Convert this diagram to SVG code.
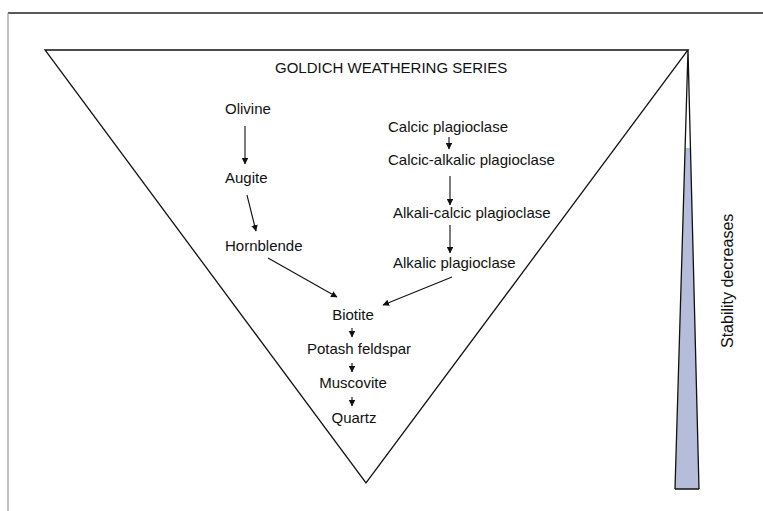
<svg xmlns="http://www.w3.org/2000/svg" width="763" height="511" viewBox="0 0 763 511">
<style>
text{font-family:"Liberation Sans",Arial,sans-serif;font-size:15px;fill:#111}
.edge{stroke:#111;stroke-width:1.1;fill:none}
</style>
<defs>
<marker id="ah" markerUnits="userSpaceOnUse" markerWidth="7" markerHeight="7" refX="6" refY="3.25" orient="auto">
<path d="M0,0 L6.5,3.25 L0,6.5 z" fill="#111"/>
</marker>
</defs>
<rect width="763" height="511" fill="#fff"/>
<g id="frame">
<line x1="8" y1="13" x2="763" y2="13" stroke="#222" stroke-width="1.3"/>
<line x1="8" y1="13" x2="8" y2="511" stroke="#999" stroke-width="1.2"/>
</g>
<g id="triangle">
<polygon points="45,50 688,50 366,483" fill="none" stroke="#111" stroke-width="1.3"/>
<text x="275" y="73">GOLDICH WEATHERING SERIES</text>
</g>
<g id="wedge">
<polygon points="685.1,148 690.5,148 699,489 675,489" fill="#b6bddb"/>
<polyline points="675,489 688,50 699,489" fill="none" stroke="#111" stroke-width="1.3"/>
<line x1="675" y1="489" x2="699" y2="489" stroke="#111" stroke-width="1.5"/>
<text transform="translate(733,348) rotate(-90)" style="font-size:16px">Stability decreases</text>
</g>
<g id="olivine"><text x="225" y="114">Olivine</text></g>
<g id="augite"><text x="225" y="183">Augite</text></g>
<g id="hornblende"><text x="225" y="251">Hornblende</text></g>
<g id="calcic"><text x="388" y="132">Calcic plagioclase</text></g>
<g id="calcic-alkalic"><text x="388" y="165">Calcic-alkalic plagioclase</text></g>
<g id="alkali-calcic"><text x="393" y="218">Alkali-calcic plagioclase</text></g>
<g id="alkalic"><text x="393" y="268">Alkalic plagioclase</text></g>
<g id="biotite"><text x="353" y="320" text-anchor="middle">Biotite</text></g>
<g id="potash"><text x="359" y="354" text-anchor="middle">Potash feldspar</text></g>
<g id="muscovite"><text x="353" y="388" text-anchor="middle">Muscovite</text></g>
<g id="quartz"><text x="354" y="423" text-anchor="middle">Quartz</text></g>
<g id="connectors" class="edge">
<line x1="245" y1="126" x2="245" y2="164" marker-end="url(#ah)"/>
<line x1="247" y1="195" x2="256" y2="231" marker-end="url(#ah)"/>
<line x1="268" y1="258" x2="337" y2="297" marker-end="url(#ah)"/>
<line x1="449" y1="137" x2="449" y2="149" marker-end="url(#ah)"/>
<line x1="450" y1="176" x2="450" y2="205" marker-end="url(#ah)"/>
<line x1="450" y1="225" x2="450" y2="253" marker-end="url(#ah)"/>
<line x1="452" y1="277" x2="383" y2="305" marker-end="url(#ah)"/>
<line x1="352" y1="328" x2="352" y2="337" marker-end="url(#ah)"/>
<line x1="352" y1="363" x2="352" y2="372" marker-end="url(#ah)"/>
<line x1="352" y1="397" x2="352" y2="406" marker-end="url(#ah)"/>
</g>
</svg>
